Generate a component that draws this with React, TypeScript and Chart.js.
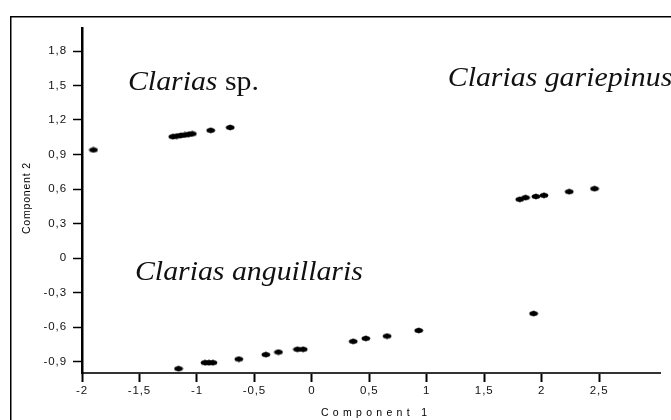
import React, { useEffect, useRef } from 'react';
import { Chart, registerables } from 'chart.js';

Chart.register(...registerables);

// ---- data ----
const spX = [-1.9, -1.21, -1.175, -1.14, -1.105, -1.07, -1.04, -0.88, -0.71];
const spY = [0.94, 1.055, 1.06, 1.066, 1.07, 1.076, 1.08, 1.11, 1.135];

const gariepinusX = [1.81, 1.86, 1.95, 2.02, 2.24, 2.46, 1.93];
const gariepinusY = [0.51, 0.525, 0.535, 0.545, 0.577, 0.603, -0.483];

const anguillarisX = [-1.16, -0.93, -0.895, -0.86, -0.635, -0.4, -0.29, -0.125, -0.075, 0.36, 0.47, 0.655, 0.93];
const anguillarisY = [-0.962, -0.91, -0.91, -0.91, -0.879, -0.84, -0.818, -0.794, -0.794, -0.725, -0.699, -0.679, -0.63];

const xTickValues = [-2, -1.5, -1, -0.5, 0, 0.5, 1, 1.5, 2, 2.5];
const xTickLabels = ['-2', '-1,5', '-1', '-0,5', '0', '0,5', '1', '1,5', '2', '2,5'];
const yTickValues = [-0.9, -0.6, -0.3, 0, 0.3, 0.6, 0.9, 1.2, 1.5, 1.8];
const yTickLabels = ['-0,9', '-0,6', '-0,3', '0', '0,3', '0,6', '0,9', '1,2', '1,5', '1,8'];

const xTitle = 'Component 1';
const yTitle = 'Component 2';

const speciesItalic = ['Clarias', 'Clarias gariepinus', 'Clarias anguillaris'];
const speciesRoman = [' sp.', '', ''];
const speciesAnchorX = [-1.6, 1.183, -1.539];
const speciesAnchorY = [1.458, 1.493, -0.188];

const toPts = (xs: number[], ys: number[]) => xs.map((x, i) => ({ x, y: ys[i] }));

function makeMarker(): HTMLCanvasElement {
  const c = document.createElement('canvas');
  c.width = 10;
  c.height = 7;
  const g = c.getContext('2d')!;
  g.fillStyle = '#000';
  g.beginPath();
  g.ellipse(5, 3.5, 4.3, 2.5, 0, 0, Math.PI * 2);
  g.fill();
  g.fillRect(4.3, 0.6, 1.4, 5.8);
  return c;
}

const decorPlugin = {
  id: 'decor',
  beforeDraw(chart: any) {
    const ctx = chart.ctx as CanvasRenderingContext2D;
    ctx.save();
    ctx.fillStyle = '#fff';
    ctx.fillRect(0, 0, chart.width, chart.height);
    ctx.strokeStyle = '#000';
    ctx.lineWidth = 1.5;
    ctx.beginPath();
    ctx.moveTo(10.75, chart.height + 5);
    ctx.lineTo(10.75, 16.75);
    ctx.lineTo(chart.width + 5, 16.75);
    ctx.stroke();
    ctx.restore();
    (ctx as any).letterSpacing = '0.9px';
  },
  afterDraw(chart: any) {
    const ctx = chart.ctx as CanvasRenderingContext2D;
    (ctx as any).letterSpacing = '0px';
    const area = chart.chartArea;
    const xs = chart.scales.x;
    const ys = chart.scales.y;

    // axis titles
    ctx.save();
    ctx.fillStyle = '#000';
    ctx.font = '10.5px "Liberation Sans", Arial, sans-serif';
    ctx.textBaseline = 'middle';
    ctx.textAlign = 'left';
    (ctx as any).letterSpacing = '4.3px';
    let w = ctx.measureText(xTitle).width - 4.3;
    ctx.fillText(xTitle, (area.left + area.right) / 2 + 3 - w / 2, 413);
    (ctx as any).letterSpacing = '0.8px';
    ctx.translate(27, (area.top + area.bottom) / 2 - 2);
    ctx.rotate(-Math.PI / 2);
    w = ctx.measureText(yTitle).width - 0.8;
    ctx.fillText(yTitle, -w / 2, 0);
    ctx.restore();

    // species labels (slightly stretched horizontally like the reference)
    const stretch = 1.065;
    ctx.save();
    (ctx as any).letterSpacing = '0px';
    ctx.fillStyle = '#111';
    ctx.textBaseline = 'alphabetic';
    ctx.textAlign = 'left';
    for (let i = 0; i < speciesItalic.length; i++) {
      const px = xs.getPixelForValue(speciesAnchorX[i]);
      const py = ys.getPixelForValue(speciesAnchorY[i]);
      ctx.save();
      ctx.translate(px, py);
      ctx.scale(stretch, 1);
      ctx.font = 'italic 28px "Liberation Serif", "Times New Roman", serif';
      ctx.fillText(speciesItalic[i], 0, 0);
      const iw = ctx.measureText(speciesItalic[i]).width;
      if (speciesRoman[i]) {
        ctx.font = '28px "Liberation Serif", "Times New Roman", serif';
        ctx.fillText(speciesRoman[i], iw, 0);
      }
      ctx.restore();
    }
    ctx.restore();
  },
};

export default function App() {
  const ref = useRef<HTMLCanvasElement | null>(null);

  useEffect(() => {
    if (!ref.current) return;
    const marker = makeMarker();
    const ds = (label: string, xs: number[], ys: number[]) => ({
      label,
      data: toPts(xs, ys),
      pointStyle: marker,
      pointRadius: 4,
      backgroundColor: '#000',
      borderColor: '#000',
      showLine: false,
    });
    const chart = new Chart(ref.current, {
      type: 'scatter',
      data: {
        datasets: [
          ds('Clarias sp.', spX, spY),
          ds('Clarias gariepinus', gariepinusX, gariepinusY),
          ds('Clarias anguillaris', anguillarisX, anguillarisY),
        ],
      },
      options: {
        responsive: false,
        animation: false,
        layout: { padding: { left: 0, top: 28, right: 11, bottom: 0 } },
        plugins: {
          legend: { display: false },
          tooltip: { enabled: false },
        },
        scales: {
          x: {
            type: 'linear',
            min: -2,
            max: 3.03,
            afterBuildTicks: (s: any) => {
              s.ticks = xTickValues.map((v) => ({ value: v }));
            },
            afterFit: (s: any) => {
              s.height = 47;
            },
            ticks: {
              callback: (v: any) => {
                const i = xTickValues.findIndex((t) => Math.abs(t - Number(v)) < 1e-6);
                return i >= 0 ? xTickLabels[i] : '';
              },
              color: '#111',
              font: { family: '"Liberation Sans", Arial, sans-serif', size: 11.5 },
              padding: 2,
              maxRotation: 0,
              autoSkip: false,
            },
            grid: {
              display: true,
              drawOnChartArea: false,
              drawTicks: true,
              tickLength: 9,
              tickWidth: 2,
              tickColor: '#000',
            },
            border: { display: true, color: '#333', width: 2 },
          },
          y: {
            type: 'linear',
            min: -1,
            max: 2,
            afterBuildTicks: (s: any) => {
              s.ticks = yTickValues.map((v) => ({ value: v }));
            },
            afterFit: (s: any) => {
              s.width = 82;
            },
            ticks: {
              callback: (v: any) => {
                const i = yTickValues.findIndex((t) => Math.abs(t - Number(v)) < 1e-6);
                return i >= 0 ? yTickLabels[i] : '';
              },
              color: '#111',
              font: { family: '"Liberation Sans", Arial, sans-serif', size: 11.5 },
              padding: 6,
              autoSkip: false,
            },
            grid: {
              display: true,
              drawOnChartArea: false,
              drawTicks: true,
              tickLength: 9,
              tickWidth: 1.5,
              tickColor: '#000',
            },
            border: { display: true, color: '#000', width: 2.5 },
          },
        },
      },
      plugins: [decorPlugin],
    });
    return () => chart.destroy();
  }, []);

  return (
    <div style={{ position: 'absolute', left: 0, top: 0, width: 671, height: 420, background: '#fff' }}>
      <canvas ref={ref} width={671} height={420} style={{ display: 'block', width: 671, height: 420 }} />
    </div>
  );
}
